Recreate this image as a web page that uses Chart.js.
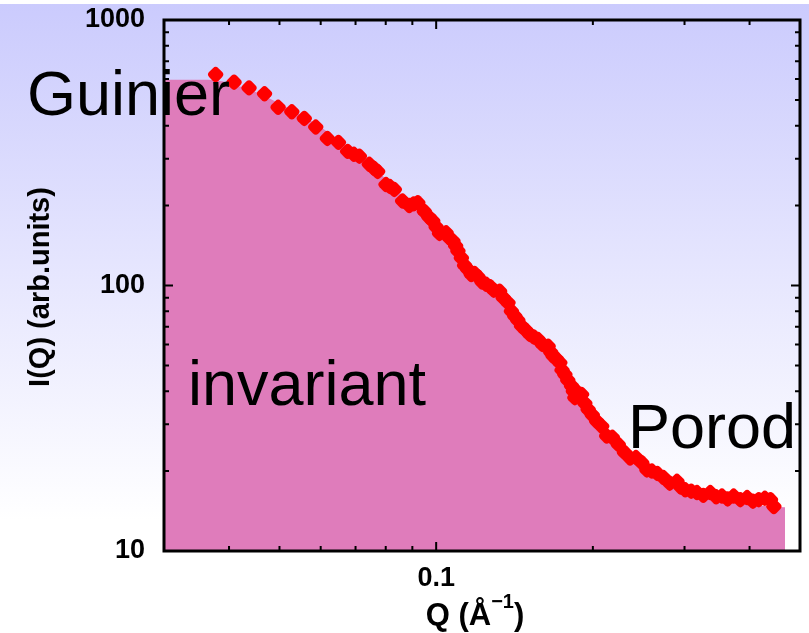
<!DOCTYPE html>
<html>
<head>
<meta charset="utf-8">
<script src="https://cdn.jsdelivr.net/npm/chart.js@4"></script>
<style>
	body { margin: 0; background: #fff; }
	canvas { display: block; }
</style>
</head>
<body>
<canvas id="saxsChart" width="809" height="633"></canvas>
<script>
// measured points, Q in 1/Angstrom
const Q_DATA = [
	0.0377, 0.0409, 0.0437, 0.0468, 0.0497, 0.0528, 0.0558, 0.0587, 0.0618, 0.0649,
	0.0676, 0.0695, 0.0712, 0.0744, 0.0760, 0.0772, 0.0801, 0.0815, 0.0831, 0.0862,
	0.0888, 0.0905, 0.0922, 0.0949, 0.0968, 0.0985, 0.1000, 0.1015, 0.1045, 0.1060,
	0.1077, 0.1090, 0.1101, 0.1118, 0.1134, 0.1150, 0.1168, 0.1185, 0.1203, 0.1225,
	0.1248, 0.1270, 0.1290, 0.1324, 0.1345, 0.1374, 0.1395, 0.1416, 0.1435, 0.1459,
	0.1485, 0.1513, 0.1540, 0.1570, 0.1600, 0.1641, 0.1660, 0.1678, 0.1700, 0.1728,
	0.1745, 0.1767, 0.1790, 0.1820, 0.1835, 0.1847, 0.1870, 0.1903, 0.1930, 0.1959,
	0.1995, 0.2034, 0.2080, 0.2126, 0.2180, 0.2238, 0.2300, 0.2358, 0.2420, 0.2483,
	0.2540, 0.2597, 0.2660, 0.2733, 0.2810, 0.2901, 0.2950, 0.3010, 0.3090, 0.3170,
	0.3260, 0.3362, 0.3450, 0.3540, 0.3630, 0.3728, 0.3840, 0.3957, 0.4060, 0.4166,
	0.4280, 0.4388, 0.4454,
];
const I_DATA = [
	623, 583, 555, 527, 469, 451, 426, 395, 358, 346,
	320, 312, 307, 286, 276, 269, 240, 236, 230, 208,
	200, 203, 205, 190, 181, 175, 166, 157, 158, 151,
	147, 141, 135, 127, 119, 115, 110, 111, 108, 103,
	101, 99, 96, 95.2, 90, 86.1, 80, 76.6, 74, 70.3,
	68, 65.4, 64, 62.6, 60, 59.1, 56, 54.2, 53, 51.2,
	48, 46.2, 44, 41.8, 40, 37.8, 39.5, 38.9, 36, 34.1,
	32.5, 30.8, 29.5, 27.1, 26.8, 25.2, 23.5, 22.4, 22.5, 21.5,
	20.2, 20.0, 19.6, 18.9, 18.0, 18.3, 17.4, 17.0, 16.8, 16.6,
	16.2, 16.6, 16.0, 16.1, 15.7, 16.1, 15.6, 15.9, 15.4, 15.6,
	15.8, 15.6, 14.7,
];

// shaded model curve (invariant area)
const Q_MODEL = [
	0.030, 0.035, 0.038, 0.040, 0.045, 0.050, 0.055, 0.060, 0.065, 0.070,
	0.075, 0.080, 0.085, 0.090, 0.095, 0.100, 0.110, 0.120, 0.130, 0.140,
	0.150, 0.160, 0.170, 0.180, 0.190, 0.200, 0.210, 0.220, 0.230, 0.250,
	0.270, 0.300, 0.330, 0.360, 0.400, 0.440, 0.468,
];
const I_MODEL = [
	595, 595, 592, 578, 535, 484, 440, 395, 352, 318,
	286, 252, 224, 201, 184, 167, 138, 113, 96, 82,
	70, 61.5, 54, 46, 39.5, 34, 30, 27, 24.5, 21.2,
	19.2, 17.3, 16.2, 15.5, 15.0, 14.7, 14.6,
];

const X_MAJOR = [0.1];
const X_MINOR = [0.04, 0.05, 0.06, 0.07, 0.08, 0.09, 0.2, 0.3, 0.4];
const Y_MAJOR = [10, 100, 1000];
const Y_MINOR = [20, 30, 40, 50, 60, 70, 80, 90, 200, 300, 400, 500, 600, 700, 800, 900];

const FONT_FAMILY = '"Liberation Sans", Arial, Helvetica, sans-serif';
Chart.defaults.font.family = FONT_FAMILY;

const backgroundPlugin = {
	id: 'background',
	beforeDraw(chart) {
		const { ctx, width, height } = chart;
		ctx.save();
		ctx.fillStyle = '#ffffff';
		ctx.fillRect(0, 0, width, height);
		const gradient = ctx.createLinearGradient(0, 4, 0, 520);
		gradient.addColorStop(0, '#cbcbfd');
		gradient.addColorStop(1, '#ffffff');
		ctx.fillStyle = gradient;
		ctx.fillRect(0, 4, width, height - 4);
		ctx.restore();
	},
};

const framePlugin = {
	id: 'frame',
	afterDatasetsDraw(chart) {
		const { ctx, chartArea, scales } = chart;
		const { left, right, top, bottom } = chartArea;
		ctx.save();
		ctx.strokeStyle = '#000';
		ctx.lineWidth = 2;
		ctx.beginPath();
		const xTick = (v, len) => {
			const px = scales.x.getPixelForValue(v);
			ctx.moveTo(px, bottom);
			ctx.lineTo(px, bottom - len);
			ctx.moveTo(px, top);
			ctx.lineTo(px, top + len);
		};
		const yTick = (v, len) => {
			const py = scales.y.getPixelForValue(v);
			ctx.moveTo(left, py);
			ctx.lineTo(left + len, py);
			ctx.moveTo(right, py);
			ctx.lineTo(right - len, py);
		};
		X_MINOR.forEach(v => xTick(v, 5));
		X_MAJOR.forEach(v => xTick(v, 9));
		Y_MINOR.forEach(v => yTick(v, 5));
		Y_MAJOR.forEach(v => yTick(v, 9));
		ctx.stroke();
		ctx.lineWidth = 3;
		ctx.strokeRect(left, top, right - left, bottom - top);
		ctx.restore();
	},
};

const labelsPlugin = {
	id: 'labels',
	afterDraw(chart) {
		const { ctx } = chart;
		ctx.save();
		ctx.fillStyle = '#000';
		ctx.textBaseline = 'alphabetic';
		ctx.textAlign = 'left';
		ctx.font = '63px ' + FONT_FAMILY;
		ctx.fillText('Guinier', 27, 115);
		ctx.fillText('invariant', 188, 405);
		ctx.fillText('Porod', 628, 448);

		// y axis title
		ctx.font = 'bold 29px ' + FONT_FAMILY;
		ctx.save();
		ctx.translate(41, 287);
		ctx.rotate(-Math.PI / 2);
		ctx.textAlign = 'center';
		ctx.textBaseline = 'middle';
		ctx.fillText('I(Q) (arb.units)', 0, 0);
		ctx.restore();

		// x axis title with superscript
		const main = 'Q (Å';
		const sup = '−1';
		const close = ')';
		const mainFont = 'bold 31px ' + FONT_FAMILY;
		const supFont = 'bold 20px ' + FONT_FAMILY;
		ctx.font = mainFont;
		const wMain = ctx.measureText(main).width;
		const wClose = ctx.measureText(close).width;
		ctx.font = supFont;
		const wSup = ctx.measureText(sup).width;
		let x = 475 - (wMain + wSup + wClose) / 2;
		const base = 625;
		ctx.font = mainFont;
		ctx.fillText(main, x, base);
		x += wMain;
		ctx.font = supFont;
		ctx.fillText(sup, x, base - 17);
		x += wSup;
		ctx.font = mainFont;
		ctx.fillText(close, x, base);
		ctx.restore();
	},
};

const ctx = document.querySelector('#saxsChart').getContext('2d');

const saxsChart = new Chart(ctx, {
	type: 'line',
	data: {
		datasets: [
			{
				label: 'data',
				data: Q_DATA.map((q, i) => ({ x: q, y: I_DATA[i] })),
				showLine: false,
				pointStyle: 'rectRounded',
				rotation: 45,
				pointRadius: 7.5,
				pointBackgroundColor: '#ff0000',
				pointBorderWidth: 0,
				borderColor: '#ff0000',
			},
			{
				label: 'invariant',
				data: Q_MODEL.map((q, i) => ({ x: q, y: I_MODEL[i] })),
				borderWidth: 0,
				borderColor: 'rgba(0,0,0,0)',
				pointRadius: 0,
				fill: 'start',
				backgroundColor: '#df7cbb',
				cubicInterpolationMode: 'monotone',
			},
		],
	},
	options: {
		responsive: false,
		animation: false,
		layout: {
			padding: { top: 20, right: 9, left: 0, bottom: 0 },
		},
		scales: {
			x: {
				type: 'logarithmic',
				min: 0.03,
				max: 0.5,
				afterBuildTicks: scale => {
					scale.ticks = X_MAJOR.map(v => ({ value: v }));
				},
				afterFit: scale => {
					scale.height = 82;
					scale.paddingLeft = 0;
					scale.paddingRight = 0;
				},
				grid: { display: false, drawTicks: false },
				border: { display: false },
				ticks: {
					color: '#000',
					font: { size: 27, weight: 'bold' },
					padding: 11,
					maxRotation: 0,
					autoSkip: false,
					callback: value => String(value),
				},
			},
			y: {
				type: 'logarithmic',
				min: 10,
				max: 1000,
				afterBuildTicks: scale => {
					scale.ticks = Y_MAJOR.map(v => ({ value: v }));
				},
				afterFit: scale => {
					scale.width = 164;
					scale.paddingTop = 0;
					scale.paddingBottom = 0;
				},
				grid: { display: false, drawTicks: false },
				border: { display: false },
				ticks: {
					color: '#000',
					font: { size: 27, weight: 'bold' },
					padding: 19,
					autoSkip: false,
					callback: value => String(value),
				},
			},
		},
		plugins: {
			legend: { display: false },
			tooltip: { enabled: false },
		},
	},
	plugins: [backgroundPlugin, framePlugin, labelsPlugin],
});
</script>
</body>
</html>
